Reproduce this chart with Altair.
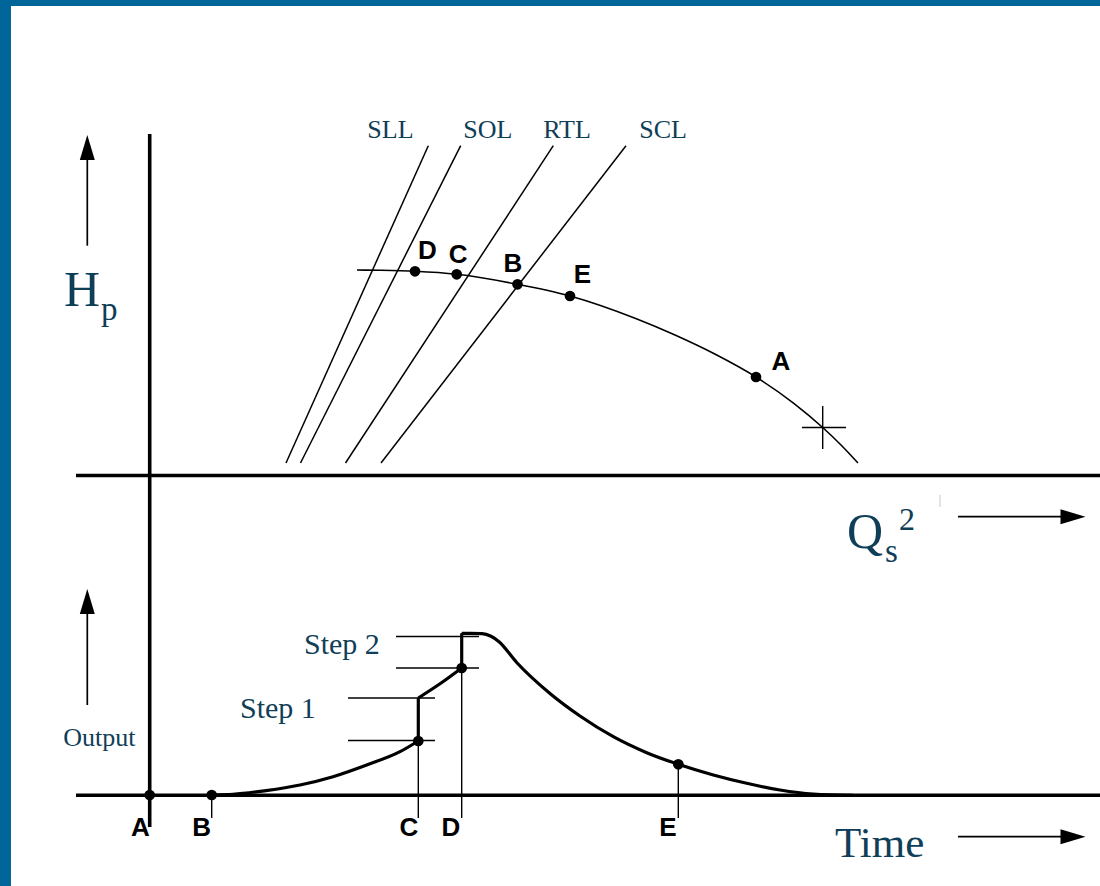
import altair as alt
import pandas as pd

# Canvas size; every value below is in diagram units: x to the right,
# y measured downward from the top edge.
W, H = 1100, 886
BLUE = "#006699"
INK = "#0f3e58"

# ---------------- frame bands ----------------
band_x = [0, 0]
band_x2 = [1100, 11]
band_y = [0, 0]
band_y2 = [6, 886]

# ---------------- straight segments (axes, ticks, steps, cross) ----------------
seg_x1 = [149.7, 76, 76,
          211.7, 418.3, 461.7, 678.3,
          348, 348, 396, 396,
          418.3, 461.7,
          802, 822.7,
          87.3, 87.3, 958, 958,
          940]
seg_y1 = [134, 475.5, 795.3,
          795, 741, 633.3, 764.3,
          698, 740.5, 636.5, 668,
          741, 668,
          427.5, 406,
          245.7, 705, 516.7, 836.7,
          495]
seg_x2 = [149.7, 1100, 1100,
          211.7, 418.3, 461.7, 678.3,
          435, 435, 479, 479,
          418.3, 461.7,
          846, 822.7,
          87.3, 87.3, 1064, 1064,
          940]
seg_y2 = [827, 475.5, 795.3,
          818, 818, 818, 818,
          698, 740.5, 636.5, 668,
          698, 633.3,
          427.5, 449,
          156, 611, 516.7, 836.7,
          507]
seg_w = [3.6, 3.4, 3.6,
         1.4, 1.4, 1.4, 1.4,
         1.3, 1.3, 1.3, 1.3,
         3.2, 3.2,
         1.4, 1.4,
         1.7, 1.7, 1.7, 1.7,
         1.0]
seg_c = ["black"] * 19 + ["#c8c8c8"]

# ---------------- load lines (upper panel) ----------------
load_names = ["SLL", "SOL", "RTL", "SCL"]
load_top_x = [428.3, 460.7, 553.3, 626.0]
load_top_y = [145.7, 145.7, 145.7, 145.7]
load_bot_x = [286.0, 300.5, 345.5, 381.0]
load_bot_y = [463.0, 463.0, 463.0, 463.0]

# ---------------- head curve (upper panel) ----------------
head_x = [357, 380, 415, 456.7, 517.5, 570, 635.7, 675, 714.8, 756, 793.8, 822.7, 841, 858]
head_y = [270, 270.3, 271.3, 274.3, 284.3, 296, 318.5, 335, 354, 377, 403.3, 427.5, 445, 463]

# ---------------- output curve (lower panel), split at the two steps ----------------
rise_x = [211.7, 233, 266, 300, 333, 366.7, 400, 418.3]
rise_y = [794.8, 794.3, 790.6, 785, 776.7, 765, 751.7, 741]
mid_x = [418.3, 440, 461.7]
mid_y = [698, 683.8, 668]
decay_x = [461.7, 470, 482, 491, 499, 516.7, 550, 580, 613.3, 646.7, 678.3, 713.3, 746.7, 780, 813.3, 853]
decay_y = [633.3, 633.3, 633.6, 636.3, 641.7, 662.5, 693.5, 716, 736.7, 752.7, 764.3, 775, 783.3, 790, 794, 795.3]

# ---------------- operating points ----------------
dot_x = [415, 456.7, 517.5, 570, 756, 149.7, 211.7, 418.3, 461.7, 678.3]
dot_y = [271.3, 274.3, 284.3, 296, 377, 795, 795, 741, 668, 764.3]

# ---------------- arrowheads ----------------
up_head_x = [87.3, 87.3]
up_head_y = [147.5, 601.5]
right_head_x = [1073, 1073]
right_head_y = [516.7, 836.7]

# ---------------- serif captions ----------------
cap_text = ["SLL", "SOL", "RTL", "SCL", "H", "p", "Q", "s", "2",
            "Time", "Output", "Step 1", "Step 2"]
cap_x = [367.3, 463.3, 543.3, 639.3, 64, 101, 847, 885, 899,
         835, 63.3, 240, 304]
cap_y = [138.3, 138.3, 138.3, 138.3, 306, 320, 548, 561.5, 530,
         857, 746, 718, 654]
cap_size = [26, 26, 26, 26, 50, 33, 50, 33, 32,
            43, 26, 30, 30]

# ---------------- point letters ----------------
let_text = ["D", "C", "B", "E", "A", "A", "B", "C", "D", "E"]
let_x = [427.5, 458.2, 513, 582.5, 781, 140.4, 201.7, 409, 451, 668]
let_y = [258.7, 262.7, 272.3, 282.7, 370, 836, 836, 836, 836, 836]

# ------------------------------------------------------------------
xs = alt.Scale(domain=[0, W], nice=False, zero=False)
ys = alt.Scale(domain=[0, H], nice=False, zero=False, reverse=True)


def X(f="x"):
    return alt.X(f"{f}:Q", scale=xs, axis=None)


def Y(f="y"):
    return alt.Y(f"{f}:Q", scale=ys, axis=None)


bands = alt.Chart(pd.DataFrame({"x": band_x, "x2": band_x2, "y": band_y, "y2": band_y2})).mark_rect(
    color=BLUE, strokeWidth=0
).encode(x=X(), x2="x2:Q", y=Y(), y2="y2:Q")

segments = alt.Chart(pd.DataFrame({
    "x": seg_x1, "y": seg_y1, "x2": seg_x2, "y2": seg_y2, "w": seg_w, "c": seg_c
})).mark_rule(strokeCap="butt").encode(
    x=X(), y=Y(), x2="x2:Q", y2="y2:Q",
    strokeWidth=alt.StrokeWidth("w:Q", scale=None),
    color=alt.Color("c:N", scale=None),
)

loads = alt.Chart(pd.DataFrame({
    "x": load_top_x, "y": load_top_y, "x2": load_bot_x, "y2": load_bot_y, "name": load_names
})).mark_rule(color="black", strokeWidth=1.5).encode(x=X(), y=Y(), x2="x2:Q", y2="y2:Q")

head = alt.Chart(pd.DataFrame({"x": head_x, "y": head_y})).mark_line(
    color="black", strokeWidth=1.6, interpolate="monotone"
).encode(x=X(), y=Y())

out_rows = (
    [{"x": a, "y": b, "part": "rise"} for a, b in zip(rise_x, rise_y)]
    + [{"x": a, "y": b, "part": "mid"} for a, b in zip(mid_x, mid_y)]
    + [{"x": a, "y": b, "part": "decay"} for a, b in zip(decay_x, decay_y)]
)
output = alt.Chart(pd.DataFrame(out_rows)).mark_line(
    color="black", strokeWidth=3.2, interpolate="monotone"
).encode(x=X(), y=Y(), detail="part:N")

dots = alt.Chart(pd.DataFrame({"x": dot_x, "y": dot_y})).mark_circle(
    color="black", size=115, opacity=1
).encode(x=X(), y=Y())

up_heads = alt.Chart(pd.DataFrame({"x": up_head_x, "y": up_head_y})).mark_point(
    shape="M0,-1L0.6,1L-0.6,1Z", filled=True, color="black", size=625, opacity=1, strokeWidth=0
).encode(x=X(), y=Y())

right_heads = alt.Chart(pd.DataFrame({"x": right_head_x, "y": right_head_y})).mark_point(
    shape="M1,0L-1,0.6L-1,-0.6Z", filled=True, color="black", size=625, opacity=1, strokeWidth=0
).encode(x=X(), y=Y())

captions = alt.Chart(pd.DataFrame({"x": cap_x, "y": cap_y, "t": cap_text, "s": cap_size})).mark_text(
    font="Liberation Serif", color=INK, align="left", baseline="alphabetic"
).encode(x=X(), y=Y(), text="t:N", size=alt.Size("s:Q", scale=None))

letters = alt.Chart(pd.DataFrame({"x": let_x, "y": let_y, "t": let_text})).mark_text(
    font="Liberation Sans", fontWeight="bold", fontSize=26, color="black",
    align="center", baseline="alphabetic"
).encode(x=X(), y=Y(), text="t:N")

chart = alt.layer(
    bands, loads, head, segments, output, dots, up_heads, right_heads, captions, letters
).properties(
    width=W, height=H,
    autosize=alt.AutoSizeParams(type="none"),
    padding=0,
    background="white",
).configure_view(stroke=None)

chart.save("out.html", embed_options={"renderer": "svg", "actions": False})
